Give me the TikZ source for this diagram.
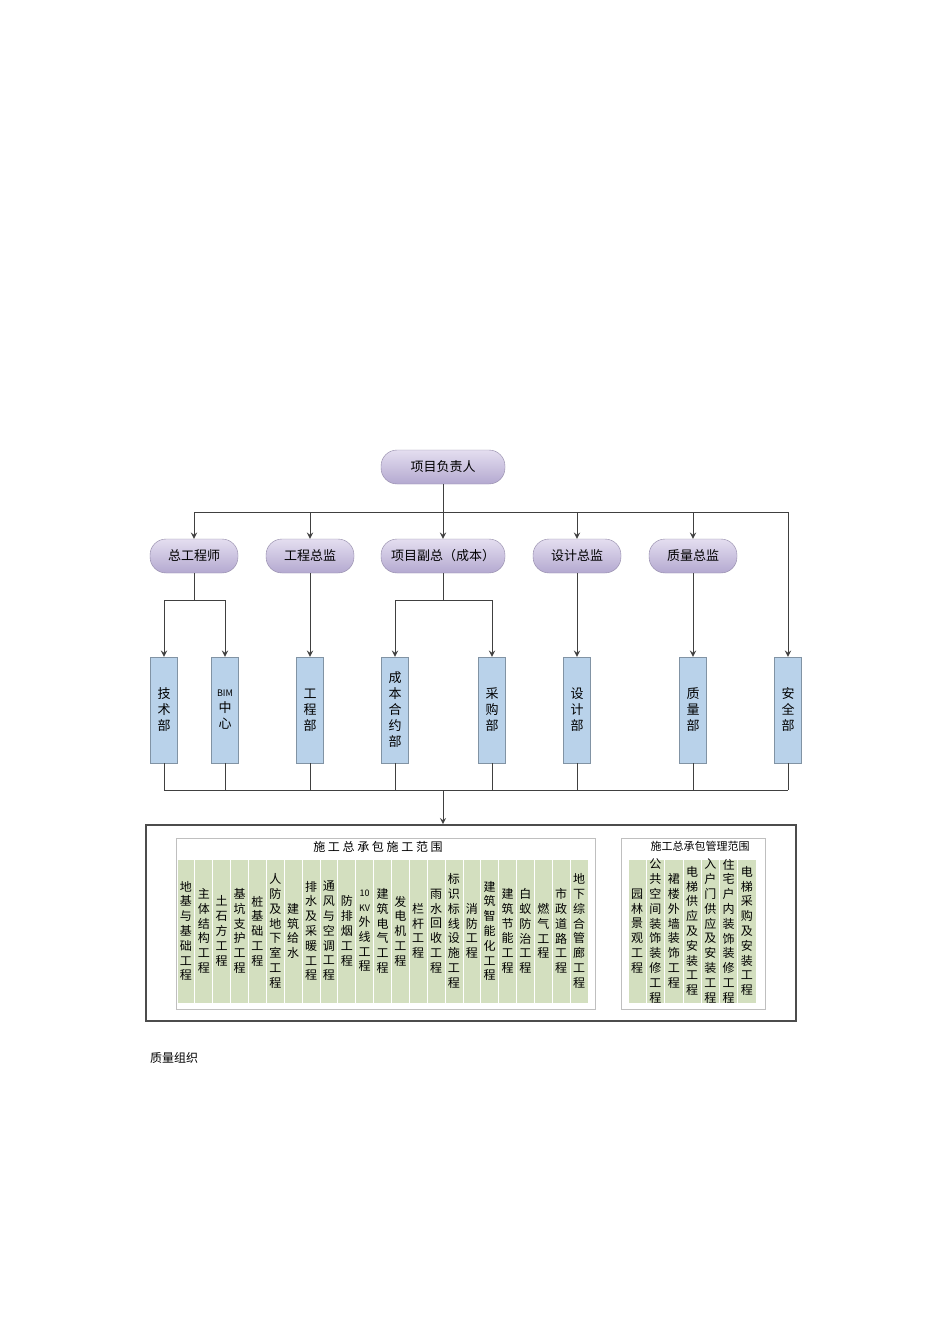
\documentclass[tikz,border=0pt]{standalone}
\usepackage{fontspec}
\setmainfont{Noto Sans CJK SC}
\usetikzlibrary{positioning, calc}
\usetikzlibrary{arrows.meta}
\tikzset{>=stealth}
\definecolor{lavtop}{HTML}{E4DEF0}
\definecolor{lavbot}{HTML}{B4A9D0}
\definecolor{myblue}{HTML}{B9D2EA}
\definecolor{mygreen}{HTML}{D3DFBF}
\tikzset{
  lead/.style={rounded corners=8pt, top color=lavtop, bottom color=lavbot, draw=lavbot!80!black, very thin,
    minimum height=17pt, font=\fontsize{6.5}{7}\selectfont},
  dept/.style={fill=myblue, draw=myblue!70!black, very thin, minimum width=13.5pt, minimum height=53pt,
    align=center, inner sep=0pt, font=\fontsize{6.5}{8}\selectfont},
  col/.style={align=center, inner sep=0pt, font=\fontsize{6}{7.4}\selectfont},
  link/.style={thin, black!75},
}
\begin{document}
\begin{tikzpicture}[x=0.5pt, y=-0.5pt]
\useasboundingbox (0,0) rectangle (950,1344);
% leaders
\node[lead, minimum width=62pt] (head) at (443,467) {项目负责人};
\node[lead, minimum width=44pt] (zg) at (194,556) {总工程师};
\node[lead, minimum width=44pt] (gc) at (310,556) {工程总监};
\node[lead, minimum width=62pt] (fz) at (443,556) {项目副总（成本）};
\node[lead, minimum width=44pt] (sj) at (577,556) {设计总监};
\node[lead, minimum width=44pt] (zl) at (693,556) {质量总监};
% departments
\node[dept] (js) at (164,710) {技\\术\\部};
\node[dept] (bim) at (225,710) {{\fontsize{4.5}{6}\selectfont BIM}\\中\\心};
\node[dept] (gcb) at (310,710) {工\\程\\部};
\node[dept] (cb) at (395,710) {成\\本\\合\\约\\部};
\node[dept] (cg) at (492,710) {采\\购\\部};
\node[dept] (sjb) at (577,710) {设\\计\\部};
\node[dept] (zlb) at (693,710) {质\\量\\部};
\node[dept] (aq) at (788,710) {安\\全\\部};
% connectors
\coordinate (bus) at (443,512);
\draw[link] (head) -- (bus);
\draw[link] (194,512) -- (788,512);
\foreach \n in {zg,gc,fz,sj,zl}
  \draw[link,->] (\n |- bus) -- (\n);
\draw[link,->] (aq |- bus) -- (aq);
\draw[link] (zg) -- (zg |- 0,600);
\draw[link,->] (js |- 0,600) -- (js);
\draw[link,->] (bim |- 0,600) -- (bim);
\draw[link] (164,600) -- (225,600);
\draw[link] (fz) -- (fz |- 0,600);
\draw[link] (395,600) -- (492,600);
\draw[link,->] (cb |- 0,600) -- (cb);
\draw[link,->] (cg |- 0,600) -- (cg);
\draw[link,->] (gc) -- (gcb);
\draw[link,->] (sj) -- (sjb);
\draw[link,->] (zl) -- (zlb);
\foreach \n in {js,bim,gcb,cb,cg,sjb,zlb,aq}
  \draw[link] (\n.south) -- (\n |- 0,790);
\draw[link] (164,790) -- (788,790);
% scope box
\node[draw=black!70, thick, minimum width=325pt, minimum height=98pt, inner sep=0pt] (scope) at (471,923) {};
\draw[link,->] (443,790) -- (scope.north -| 443,0);
\draw[black!25] (176,838) rectangle (595,1009);
\node[font=\fontsize{6}{7}\selectfont] (t1) at (378,847) {施\ 工\ 总\ 承\ 包\ 施\ 工\ 范\ 围};
\fill[mygreen] (177,860) rectangle (588,1003);
\foreach \i/\t in {0/地\\基\\与\\基\\础\\工\\程, 1/主\\体\\结\\构\\工\\程, 2/土\\石\\方\\工\\程,
  3/基\\坑\\支\\护\\工\\程, 4/桩\\基\\础\\工\\程, 5/人\\防\\及\\地\\下\\室\\工\\程, 6/建\\筑\\给\\水,
  7/排\\水\\及\\采\\暖\\工\\程, 8/通\\风\\与\\空\\调\\工\\程, 9/防\\排\\烟\\工\\程,
  10/{\fontsize{4.5}{6}\selectfont 10}\\{\fontsize{4.5}{6}\selectfont KV}\\外\\线\\工\\程, 11/建\\筑\\电\\气\\工\\程,
  12/发\\电\\机\\工\\程, 13/栏\\杆\\工\\程, 14/雨\\水\\回\\收\\工\\程, 15/标\\识\\标\\线\\设\\施\\工\\程,
  16/消\\防\\工\\程, 17/建\\筑\\智\\能\\化\\工\\程, 18/建\\筑\\节\\能\\工\\程, 19/白\\蚁\\防\\治\\工\\程,
  20/燃\\气\\工\\程, 21/市\\政\\道\\路\\工\\程, 22/地\\下\\综\\合\\管\\廊\\工\\程}
{
  \draw[white, thin] ({177+\i*17.87},860) -- ({177+\i*17.87},1003);
  \node[col] (c\i) at ({177+(\i+0.5)*17.87},931) {\t};
}
\draw[black!25] (621,838) rectangle (765,1009);
\node[font=\fontsize{5.5}{7}\selectfont] (t2) at (700,846) {施工总承包管理范围};
\fill[mygreen] (628,860) rectangle (756,1003);
\foreach \i/\t in {0/园\\林\\景\\观\\工\\程, 1/公\\共\\空\\间\\装\\饰\\装\\修\\工\\程, 2/裙\\楼\\外\\墙\\装\\饰\\工\\程,
  3/电\\梯\\供\\应\\及\\安\\装\\工\\程, 4/入\\户\\门\\供\\应\\及\\安\\装\\工\\程, 5/住\\宅\\户\\内\\装\\饰\\装\\修\\工\\程,
  6/电\\梯\\采\\购\\及\\安\\装\\工\\程}
{
  \draw[white, thin] ({628+\i*18.3},860) -- ({628+\i*18.3},1003);
  \node[col] (m\i) at ({628+(\i+0.5)*18.3},931) {\t};
}
\node[anchor=west, font=\fontsize{6}{7}\selectfont] (cap) at (143,1058) {质量组织};
\end{tikzpicture}
\end{document}
